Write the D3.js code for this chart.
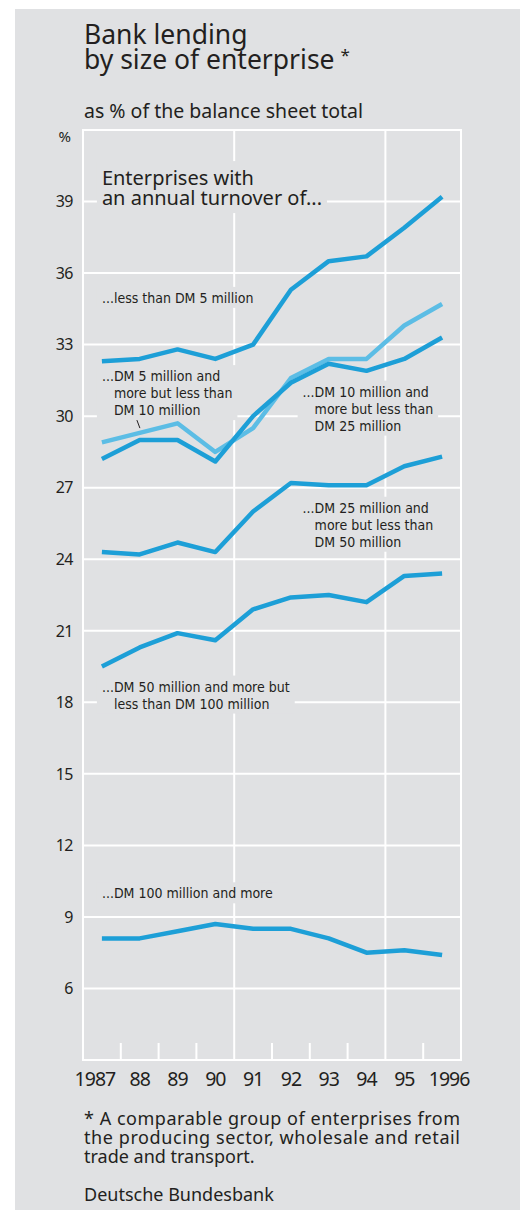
<!DOCTYPE html>
<html>
<head>
<meta charset="utf-8">
<script src="https://cdn.jsdelivr.net/npm/d3@7"></script>
<style>
  html, body { margin: 0; padding: 0; background: #fff; }
  svg { display: block; }
</style>
</head>
<body>
<svg id="svg" width="520" height="1210"></svg>
<script>
const years = [1987, 1988, 1989, 1990, 1991, 1992, 1993, 1994, 1995, 1996];
const yearLabels = ["1987", "88", "89", "90", "91", "92", "93", "94", "95", "1996"];

// % of balance sheet total, by annual turnover
const lessThan5 = [32.3, 32.4, 32.8, 32.4, 33.0, 35.3, 36.5, 36.7, 37.9, 39.2];
const from5to10 = [28.9, 29.3, 29.7, 28.5, 29.5, 31.6, 32.4, 32.4, 33.8, 34.7];
const from10to25 = [28.2, 29.0, 29.0, 28.1, 30.0, 31.4, 32.2, 31.9, 32.4, 33.3];
const from25to50 = [24.3, 24.2, 24.7, 24.3, 26.0, 27.2, 27.1, 27.1, 27.9, 28.3];
const from50to100 = [19.5, 20.3, 20.9, 20.6, 21.9, 22.4, 22.5, 22.2, 23.3, 23.4];
const over100 = [8.1, 8.1, 8.4, 8.7, 8.5, 8.5, 8.1, 7.5, 7.6, 7.4];

const yTicks = [6, 9, 12, 15, 18, 21, 24, 27, 30, 33, 36, 39];

const seriesList = [
    {name: "5-10", values: from5to10, light: true},
    {name: "<5", values: lessThan5},
    {name: "10-25", values: from10to25},
    {name: "25-50", values: from25to50},
    {name: "50-100", values: from50to100},
    {name: ">100", values: over100}
];

// annotation text, anchored in data units (year, value of first baseline)
const annotations = [
    {lines: ["...less than DM 5 million"], year: 1987, value: 34.75},
    {lines: ["...DM 5 million and", "more but less than", "DM 10 million"], year: 1987, value: 31.47, leader: true},
    {lines: ["...DM 10 million and", "more but less than", "DM 25 million"], year: 1992.31, value: 30.82},
    {lines: ["...DM 25 million and", "more but less than", "DM 50 million"], year: 1992.31, value: 25.95},
    {lines: ["...DM 50 million and more but", "less than DM 100 million"], year: 1987, value: 18.45},
    {lines: ["...DM 100 million and more"], year: 1987, value: 9.78}
];

const footLines = [
    "* A comparable group of enterprises from",
    "the producing sector, wholesale and retail",
    "trade and transport."
];

const bg = "#e0e1e3";
const dark = "#1d9fd7";
const lightBlue = "#5cbde5";
const ink = "#231f20";
const font = "'Noto Sans', 'Open Sans', sans-serif";
const narrow = "'Liberation Sans Narrow', 'DejaVu Sans Condensed', sans-serif";

const svg = d3.select("#svg");

svg.append("rect")
    .attr("x", 15).attr("y", 9)
    .attr("width", 505).attr("height", 1201)
    .attr("fill", bg);

const x = d3.scaleLinear([1986.5, 1996.5], [83, 461]);
const y = d3.scaleLinear([3, 42], [1060, 130]);

// titles
const title = svg.append("text")
    .attr("font-family", font)
    .attr("font-size", 26.5)
    .attr("fill", ink);
title.append("tspan").attr("x", 84).attr("y", 44).text("Bank lending");
title.append("tspan").attr("x", 84).attr("y", 69).text("by size of enterprise");
title.append("tspan").attr("dx", 6).attr("dy", -8).attr("font-size", 17).text("*");

svg.append("text")
    .attr("x", 84).attr("y", 118)
    .attr("font-family", font)
    .attr("font-size", 19.5)
    .attr("fill", ink)
    .text("as % of the balance sheet total");

// grid
const grid = svg.append("g").attr("stroke", "#fff").attr("stroke-width", 2);

grid.selectAll("line.h")
    .data(yTicks)
    .join("line")
    .attr("class", "h")
    .attr("x1", x.range()[0]).attr("x2", x.range()[1])
    .attr("y1", d => y(d)).attr("y2", d => y(d));

grid.selectAll("line.v")
    .data([1990.5, 1994.5])
    .join("line")
    .attr("class", "v")
    .attr("x1", d => x(d)).attr("x2", d => x(d))
    .attr("y1", y.range()[1]).attr("y2", y.range()[0]);

grid.selectAll("line.t")
    .data([1987.5, 1988.5, 1989.5, 1991.5, 1992.5, 1993.5, 1995.5])
    .join("line")
    .attr("class", "t")
    .attr("x1", d => x(d)).attr("x2", d => x(d))
    .attr("y1", y.range()[0] - 17).attr("y2", y.range()[0]);

grid.append("rect")
    .attr("x", x.range()[0]).attr("y", y.range()[1])
    .attr("width", x.range()[1] - x.range()[0])
    .attr("height", y.range()[0] - y.range()[1])
    .attr("fill", "none");

// y axis labels
svg.append("g")
    .attr("font-family", font)
    .attr("font-size", 16)
    .attr("fill", ink)
    .attr("text-anchor", "end")
    .selectAll("text")
    .data(yTicks)
    .join("text")
    .attr("x", 73)
    .attr("y", d => y(d))
    .attr("dy", "0.36em")
    .attr("letter-spacing", -0.5)
    .text(d => d);

svg.append("text")
    .attr("x", 71).attr("y", 142)
    .attr("font-family", font)
    .attr("font-size", 15)
    .attr("text-anchor", "end")
    .attr("fill", ink)
    .text("%");

// x axis labels
svg.append("g")
    .attr("font-family", font)
    .attr("font-size", 19.5)
    .attr("fill", ink)
    .attr("text-anchor", "middle")
    .selectAll("text")
    .data(years)
    .join("text")
    .attr("x", d => x(d))
    .attr("dx", (d, i) => i === 0 ? -7 : (i === years.length - 1 ? 7 : 0))
    .attr("y", 1086)
    .attr("letter-spacing", -1)
    .text((d, i) => yearLabels[i]);

// label blocks with grey knock-out behind
function labelBlock(lines, px, py, {size, lineHeight, family, indent = true}) {
    const g = svg.append("g");
    const box = g.append("rect").attr("fill", bg);
    const t = g.append("text")
        .attr("font-family", family)
        .attr("font-size", size)
        .attr("fill", ink);
    const probe = t.append("tspan").text("...");
    const dots = indent ? probe.node().getComputedTextLength() : 0;
    probe.remove();
    lines.forEach((line, i) => {
        t.append("tspan")
            .attr("x", i === 0 ? px : px + dots)
            .attr("y", py + i * lineHeight)
            .text(line);
    });
    const bb = t.node().getBBox();
    box.attr("x", bb.x - 5).attr("y", bb.y - 3)
        .attr("width", bb.width + 10).attr("height", bb.height + 5);
    return g;
}

labelBlock(["Enterprises with", "an annual turnover of..."], x(1987), y(39.69),
    {size: 20, lineHeight: 20, family: font, indent: false});

annotations.forEach(a => {
    const px = x(a.year), py = y(a.value);
    const g = labelBlock(a.lines, px, py, {size: 14, lineHeight: 17, family: narrow});
    if (a.leader) {
        g.append("line")
            .attr("x1", px + 35).attr("y1", py + 2 * 17 + 5)
            .attr("x2", px + 38).attr("y2", py + 2 * 17 + 13)
            .attr("stroke", ink).attr("stroke-width", 1);
    }
});

// series lines
const line = d3.line()
    .x((d, i) => x(years[i]))
    .y(d => y(d));

svg.append("g")
    .attr("fill", "none")
    .attr("stroke-width", 4.5)
    .attr("stroke-linejoin", "round")
    .selectAll("path")
    .data(seriesList)
    .join("path")
    .attr("stroke", d => d.light ? lightBlue : dark)
    .attr("d", d => line(d.values));

// footnote
const foot = svg.append("g")
    .attr("font-family", font)
    .attr("font-size", 18)
    .attr("fill", ink);

foot.selectAll("text")
    .data(footLines)
    .join("text")
    .attr("x", 84)
    .attr("y", (d, i) => 1125 + i * 19)
    .attr("textLength", (d, i) => i < footLines.length - 1 ? 376 : null)
    .attr("lengthAdjust", "spacing")
    .text(d => d);

foot.append("text")
    .attr("x", 84).attr("y", 1201)
    .text("Deutsche Bundesbank");
</script>
</body>
</html>
